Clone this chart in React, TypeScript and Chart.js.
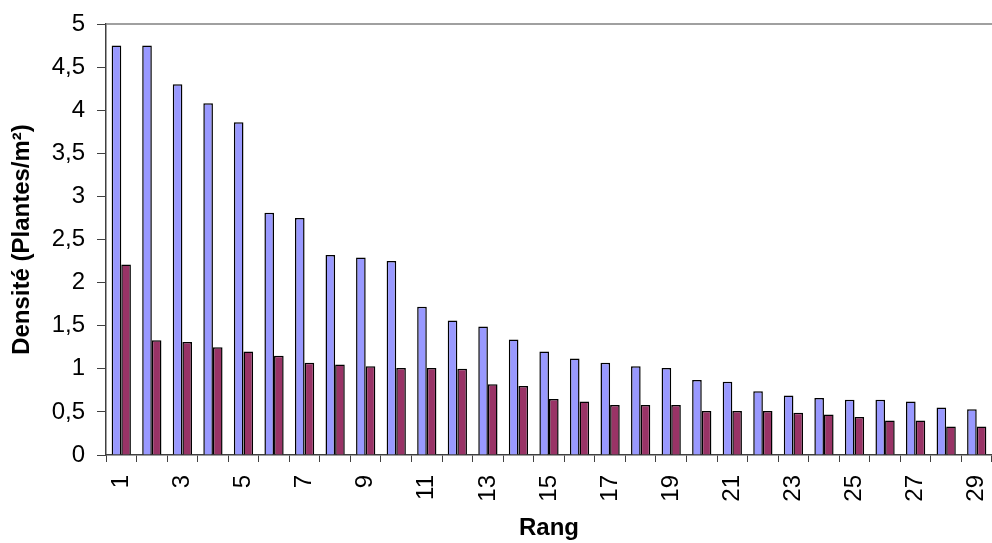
import React, { useEffect, useRef } from "react";
import { Chart, registerables } from "chart.js";

Chart.register(...registerables);

const categories = [
  "1", "2", "3", "4", "5", "6", "7", "8", "9", "10",
  "11", "12", "13", "14", "15", "16", "17", "18", "19", "20",
  "21", "22", "23", "24", "25", "26", "27", "28", "29",
];

const seriesA = [
  4.75, 4.75, 4.3, 4.08, 3.86, 2.81, 2.75, 2.32, 2.29, 2.25,
  1.72, 1.56, 1.49, 1.34, 1.2, 1.12, 1.07, 1.03, 1.01, 0.87,
  0.85, 0.74, 0.69, 0.66, 0.64, 0.64, 0.62, 0.55, 0.53,
];

const seriesB = [
  2.21, 1.33, 1.31, 1.25, 1.2, 1.15, 1.07, 1.05, 1.03, 1.01,
  1.01, 1.0, 0.82, 0.8, 0.65, 0.62, 0.58, 0.58, 0.58, 0.51,
  0.51, 0.51, 0.49, 0.47, 0.44, 0.4, 0.4, 0.33, 0.33,
];

const yTitle = "Densité (Plantes/m²)";
const xTitle = "Rang";

const FONT = "'Liberation Sans', Arial, sans-serif";

const topBorder = {
  id: "topBorder",
  afterDraw(chart: any) {
    const { ctx, chartArea } = chart;
    ctx.save();
    ctx.strokeStyle = "#808080";
    ctx.lineWidth = 1.5;
    ctx.beginPath();
    ctx.moveTo(chartArea.left, chartArea.top);
    ctx.lineTo(chartArea.right + 2, chartArea.top);
    ctx.stroke();
    ctx.restore();
  },
};

export default function App() {
  const ref = useRef<HTMLCanvasElement | null>(null);

  useEffect(() => {
    if (!ref.current) return;
    const chart = new Chart(ref.current, {
      type: "bar",
      data: {
        labels: categories,
        datasets: [
          {
            data: seriesA,
            backgroundColor: "#9999FF",
            borderColor: "#000000",
            borderWidth: 1.5,
            categoryPercentage: 0.63,
            barPercentage: 1,
          },
          {
            data: seriesB,
            backgroundColor: "#993366",
            borderColor: "#000000",
            borderWidth: 1.5,
            categoryPercentage: 0.63,
            barPercentage: 1,
          },
        ],
      },
      options: {
        responsive: false,
        animation: false,
        layout: { padding: { top: 24, right: 0, left: 0, bottom: 0 } },
        plugins: {
          legend: { display: false },
          tooltip: { enabled: false },
        },
        scales: {
          x: {
            offset: true,
            afterFit: (scale: any) => {
              scale.height = 88;
              scale.paddingRight = 0;
              scale.paddingLeft = 0;
            },
            grid: {
              display: true,
              offset: true,
              drawOnChartArea: false,
              drawTicks: true,
              tickLength: 7,
              color: "#404040",
            },
            border: { display: true, color: "#404040", width: 1.5 },
            ticks: {
              autoSkip: false,
              maxRotation: 90,
              minRotation: 90,
              padding: 13,
              color: "#000",
              font: { family: FONT, size: 24 },
              callback: function (this: any, _v: any, i: number) {
                return i % 2 === 0 ? categories[i] : "";
              },
            },
            title: {
              display: true,
              text: xTitle,
              color: "#000",
              font: { family: FONT, size: 24, weight: "bold" },
              padding: { top: 0, bottom: 0 },
            },
          },
          y: {
            min: 0,
            max: 5,
            afterFit: (scale: any) => {
              scale.width = 106;
              scale.paddingTop = 0;
              scale.paddingBottom = 0;
            },
            grid: {
              display: true,
              drawOnChartArea: false,
              drawTicks: true,
              tickLength: 9,
              color: "#404040",
            },
            border: { display: true, color: "#404040", width: 1.5 },
            ticks: {
              stepSize: 0.5,
              padding: 12,
              color: "#000",
              font: { family: FONT, size: 24 },
              callback: (v: any) => String(Number(v)).replace(".", ","),
            },
            title: {
              display: true,
              text: yTitle,
              color: "#000",
              font: { family: FONT, size: 24, weight: "bold" },
              padding: { top: 8, bottom: 0 },
            },
          },
        },
      },
      plugins: [topBorder],
    });
    return () => chart.destroy();
  }, []);

  return (
    <div style={{ position: "fixed", left: 0, top: 0, width: 992, height: 543, background: "#fff" }}>
      <canvas ref={ref} width={992} height={543} style={{ display: "block" }} />
    </div>
  );
}
